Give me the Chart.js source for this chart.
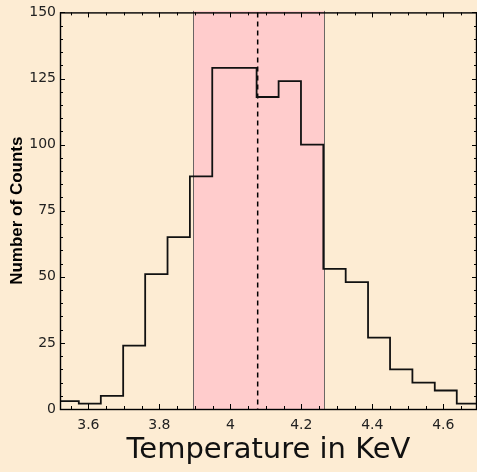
<!DOCTYPE html>
<html>
<head>
<meta charset="utf-8">
<script src="https://cdn.jsdelivr.net/npm/chart.js@4/dist/chart.umd.min.js"></script>
<style>
  html, body { margin: 0; padding: 0; background: #fdecd3; }
  #wrap { width: 477px; height: 472px; }
</style>
</head>
<body>
<div id="wrap"><canvas id="c" width="477" height="472"></canvas></div>
<script>
// Histogram bin left edges (keV) plus final right edge
const binEdges = [3.510, 3.573, 3.635, 3.698, 3.760, 3.823, 3.886, 3.949, 4.011, 4.074,
                  4.136, 4.199, 4.262, 4.325, 4.388, 4.450, 4.513, 4.576, 4.638, 4.701];
// Counts per bin
const counts = [3, 2, 5, 24, 51, 65, 88, 129, 129, 118, 124, 100, 53, 48, 27, 15, 10, 7, 2];
// Highlighted interval and central value (keV)
const bandLow = 3.895;
const bandHigh = 4.264;
const centerValue = 4.077;
// Axis ticks
const xTicks = [3.6, 3.8, 4.0, 4.2, 4.4, 4.6];
const xMinorTicks = [3.55, 3.65, 3.7, 3.75, 3.85, 3.9, 3.95, 4.05, 4.1, 4.15, 4.25, 4.3, 4.35, 4.45, 4.5, 4.55, 4.65];
const yTicks = [0, 25, 50, 75, 100, 125, 150];
const yMinorTicks = [5,10,15,20,30,35,40,45,55,60,65,70,80,85,90,95,105,110,115,120,130,135,140,145];
const xRange = [3.52, 4.695];
const yRange = [0, 150];

const points = counts.map((c, i) => ({ x: binEdges[i], y: c }));
points.push({ x: binEdges[binEdges.length - 1], y: counts[counts.length - 1] });

const bandPlugin = {
  id: 'band',
  beforeDatasetsDraw(chart) {
    const { ctx, chartArea: a, scales: { x } } = chart;
    const x0 = x.getPixelForValue(bandLow), x1 = x.getPixelForValue(bandHigh);
    ctx.save();
    ctx.fillStyle = '#ffcccc';
    ctx.fillRect(x0, a.top - 1.5, x1 - x0, a.bottom - a.top + 1.5);
    ctx.strokeStyle = 'rgba(80,80,80,0.85)';
    ctx.lineWidth = 1;
    ctx.beginPath();
    ctx.moveTo(Math.round(x0) + 0.5, a.top - 1.5); ctx.lineTo(Math.round(x0) + 0.5, a.bottom);
    ctx.moveTo(Math.round(x1) + 0.5, a.top - 1.5); ctx.lineTo(Math.round(x1) + 0.5, a.bottom);
    ctx.stroke();
    const xc = x.getPixelForValue(centerValue);
    ctx.strokeStyle = '#000';
    ctx.lineWidth = 1.5;
    ctx.setLineDash([5, 4]);
    ctx.beginPath();
    ctx.moveTo(xc, a.top); ctx.lineTo(xc, a.bottom);
    ctx.stroke();
    ctx.restore();
  }
};

const framePlugin = {
  id: 'frame',
  afterDatasetsDraw(chart) {
    const { ctx, chartArea: a, scales: { x, y } } = chart;
    ctx.save();
    ctx.strokeStyle = '#000';
    ctx.lineWidth = 1;
    ctx.beginPath();
    const tick = (v, len, isX) => {
      if (isX) {
        const px = Math.round(x.getPixelForValue(v)) + 0.5;
        ctx.moveTo(px, a.bottom); ctx.lineTo(px, a.bottom - len);
        ctx.moveTo(px, a.top); ctx.lineTo(px, a.top + len);
      } else {
        const py = Math.round(y.getPixelForValue(v)) + 0.5;
        ctx.moveTo(a.left, py); ctx.lineTo(a.left + len, py);
        ctx.moveTo(a.right, py); ctx.lineTo(a.right - len, py);
      }
    };
    xTicks.forEach(v => tick(v, 5, true));
    xMinorTicks.forEach(v => tick(v, 3, true));
    yTicks.forEach(v => tick(v, 5, false));
    yMinorTicks.forEach(v => tick(v, 3, false));
    ctx.stroke();
    ctx.lineWidth = 1.4;
    ctx.strokeRect(a.left + 0.5, a.top + 0.5, a.right - a.left - 1, a.bottom - a.top);
    ctx.restore();
  }
};

new Chart(document.getElementById('c'), {
  type: 'line',
  data: {
    datasets: [{
      data: points,
      stepped: 'before',
      borderColor: '#111',
      borderWidth: 1.8,
      pointRadius: 0,
      fill: false
    }]
  },
  options: {
    responsive: false,
    animation: false,
    events: [],
    layout: { padding: { top: 8, right: 0, left: 0, bottom: 0 } },
    plugins: { legend: { display: false }, tooltip: { enabled: false } },
    scales: {
      x: {
        type: 'linear',
        min: xRange[0], max: xRange[1],
        grid: { display: false, drawTicks: false },
        border: { display: false },
        afterBuildTicks: s => { s.ticks = xTicks.map(v => ({ value: v })); },
        afterFit: s => { s.height = 63; },
        ticks: {
          padding: 8,
          color: '#222',
          font: { family: 'DejaVu Sans', size: 14 },
          callback: v => String(Math.round(v * 10) / 10),
          maxRotation: 0
        },
        title: {
          display: true,
          text: 'Temperature in KeV',
          color: '#111',
          font: { family: 'DejaVu Sans', size: 29 },
          padding: { top: 0, bottom: 4 }
        }
      },
      y: {
        type: 'linear',
        min: yRange[0], max: yRange[1],
        grid: { display: false, drawTicks: false },
        border: { display: false },
        afterBuildTicks: s => { s.ticks = yTicks.map(v => ({ value: v })); },
        afterFit: s => { s.width = 60; },
        ticks: {
          padding: 4,
          color: '#222',
          font: { family: 'DejaVu Sans', size: 14 }
        },
        title: {
          display: true,
          text: 'Number of Counts',
          color: '#000',
          font: { family: "'Liberation Sans', Arial, sans-serif", size: 17, weight: 'bold' },
          padding: { top: 7, bottom: 0 }
        }
      }
    }
  },
  plugins: [bandPlugin, framePlugin]
});
</script>
</body>
</html>
